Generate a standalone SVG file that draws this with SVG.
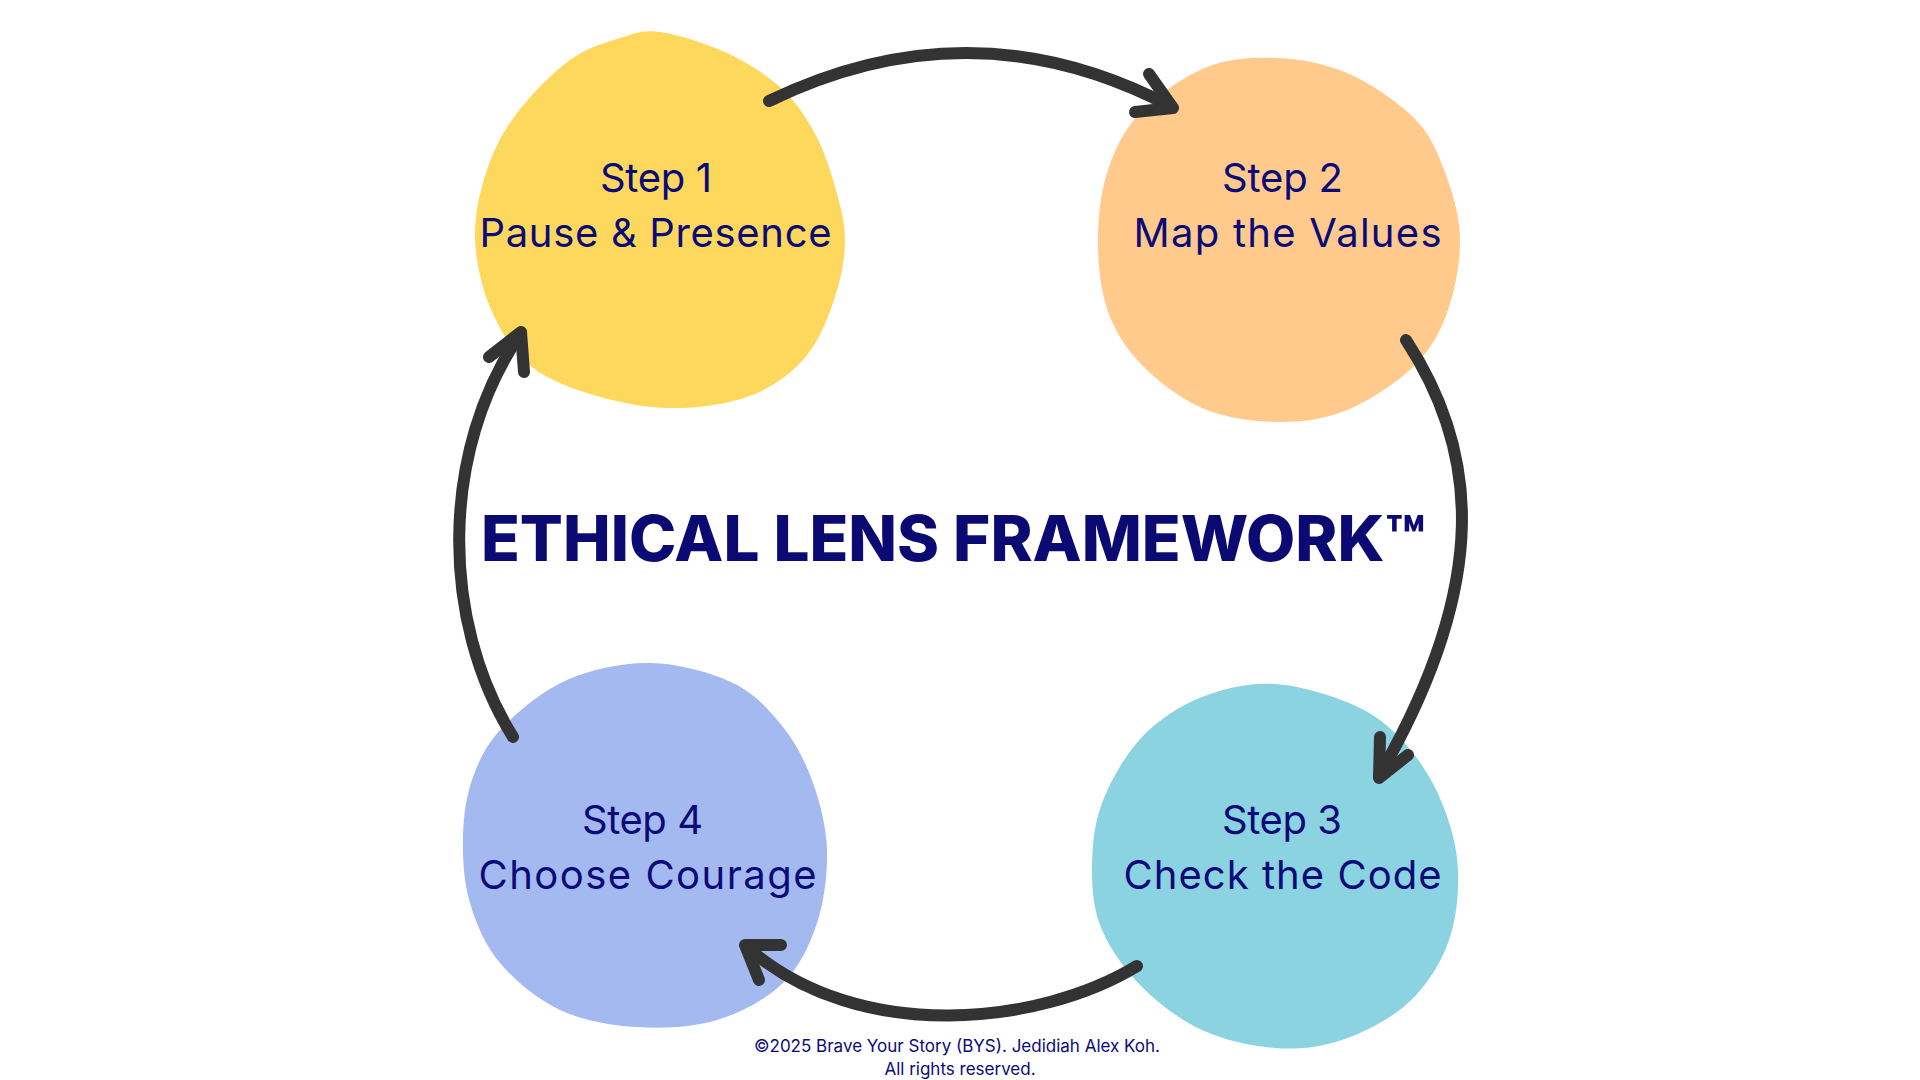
<svg xmlns="http://www.w3.org/2000/svg" width="1920" height="1080" viewBox="0 0 1920 1080">
<style>
.step{font-family:Inter,"Noto Sans",sans-serif;font-size:40px;fill:#0a0a78;text-anchor:middle}
.title{font-family:Inter,"Noto Sans",sans-serif;font-size:63px;font-weight:800;fill:#0a0a72}
.foot{font-family:Inter,"Noto Sans",sans-serif;font-size:17px;fill:#0a0a78;text-anchor:middle}
.arrow{fill:none;stroke:#333333;stroke-width:12;stroke-linecap:round;stroke-linejoin:round}
</style>
<rect width="1920" height="1080" fill="#ffffff"/>
<g id="step1">
<path d="M660,32 C677.8,34.5 707,43.8 727,53 S765.7,74.2 780,87 S804.2,114.5 813,130 S827.7,161.7 833,180 S845,219.5 845,240 S840,283 833,303 S817.3,344.3 803,360 S769.7,389 747,397 S693.7,408.7 667,408 S610.3,400.5 587,393 S543.2,377.3 527,363 S498.7,328 490,307 S475.5,259.8 475,237 S480,190.7 487,170 S503.2,131.3 517,113 S552.8,72.5 570,60 S605,42.7 620,38 S642.2,29.5 660,32 Z" fill="#fed85d"/>
<text class="step" x="656" y="192" textLength="112" lengthAdjust="spacing">Step 1</text>
<text class="step" x="655.5" y="247" textLength="352" lengthAdjust="spacing">Pause &amp; Presence</text>
</g>
<g id="step2">
<path d="M1277,58 C1300.3,59 1324.3,63.2 1347,73 S1397,101.3 1413,117 S1435.2,147 1443,167 S1459.3,212.7 1460,237 S1454.8,291.3 1447,313 S1429.7,350.8 1413,367 S1369.2,400.8 1347,410 S1303.3,422 1280,422 S1229.2,418.7 1207,410 S1163.2,385.5 1147,370 S1118.2,337.5 1110,317 S1098.5,271 1098,247 S1100,195.3 1107,173 S1123.3,130.7 1140,113 S1184.2,76.2 1207,67 S1253.7,57 1277,58 Z" fill="#ffca8b"/>
<text class="step" x="1282.5" y="192" textLength="121" lengthAdjust="spacing">Step 2</text>
<text class="step" x="1287.5" y="247" textLength="308" lengthAdjust="spacing">Map the Values</text>
</g>
<g id="step3">
<path d="M1275,684 C1301,685.7 1335.8,696.5 1358,707 S1394,731 1408,747 S1433.7,782.5 1442,803 S1457,846.7 1458,870 S1456.3,920.8 1448,943 S1425.7,986.8 1408,1003 S1364.2,1032.5 1342,1040 S1298.3,1049.7 1275,1048 S1224.2,1040.2 1202,1030 S1158.7,1003.7 1142,987 S1110.3,949.5 1102,930 S1092,891.2 1092,870 S1093.7,825.2 1102,803 S1125.3,754.7 1142,737 S1179.8,705.8 1202,697 S1249,682.3 1275,684 Z" fill="#8cd3e1"/>
<text class="step" x="1282" y="834" textLength="120" lengthAdjust="spacing">Step 3</text>
<text class="step" x="1282.5" y="889" textLength="318" lengthAdjust="spacing">Check the Code</text>
</g>
<g id="step4">
<path d="M650,663 C677.7,663.5 710.8,672.3 733,683 S769.7,710.3 783,727 S805.7,762.5 813,783 S826.3,826.7 827,850 S824.3,900.8 817,923 S799.7,966.8 783,983 S741.3,1012.7 717,1020 S663.2,1028.7 637,1027 S582.8,1020.7 560,1010 S515,980.8 500,963 S476.2,924 470,903 S462.5,858 463,837 S466.3,795.3 473,777 S487.3,743.2 503,727 S542.5,690.7 567,680 S622.3,662.5 650,663 Z" fill="#a5b9f1"/>
<text class="step" x="642.5" y="834" textLength="121" lengthAdjust="spacing">Step 4</text>
<text class="step" x="647.5" y="889" textLength="338" lengthAdjust="spacing">Choose Courage</text>
</g>
<g id="connectors">
<path class="arrow" d="M769,101 Q973,2 1172,107"/>
<path class="arrow" d="M1149,74 L1173,108 L1135,112"/>
<path class="arrow" d="M1406,340 C1478,450 1492,580 1379,776"/>
<path class="arrow" d="M1380,737 L1379,778 L1408,755"/>
<path class="arrow" d="M1137,966 C1040,1025 860,1045 748,948"/>
<path class="arrow" d="M781,945 L745,945 L759,980"/>
<path class="arrow" d="M513,737 C440,620 440,450 521,333"/>
<path class="arrow" d="M489,357 L521,332 L524,372"/>
</g>
<g id="title">
<text class="title" x="481" y="561" textLength="945" lengthAdjust="spacingAndGlyphs">ETHICAL LENS FRAMEWORK™</text>
</g>
<g id="footer">
<text class="foot" x="957" y="1052">©2025 Brave Your Story (BYS). Jedidiah Alex Koh.</text>
<text class="foot" x="960" y="1075">All rights reserved.</text>
</g>
</svg>
